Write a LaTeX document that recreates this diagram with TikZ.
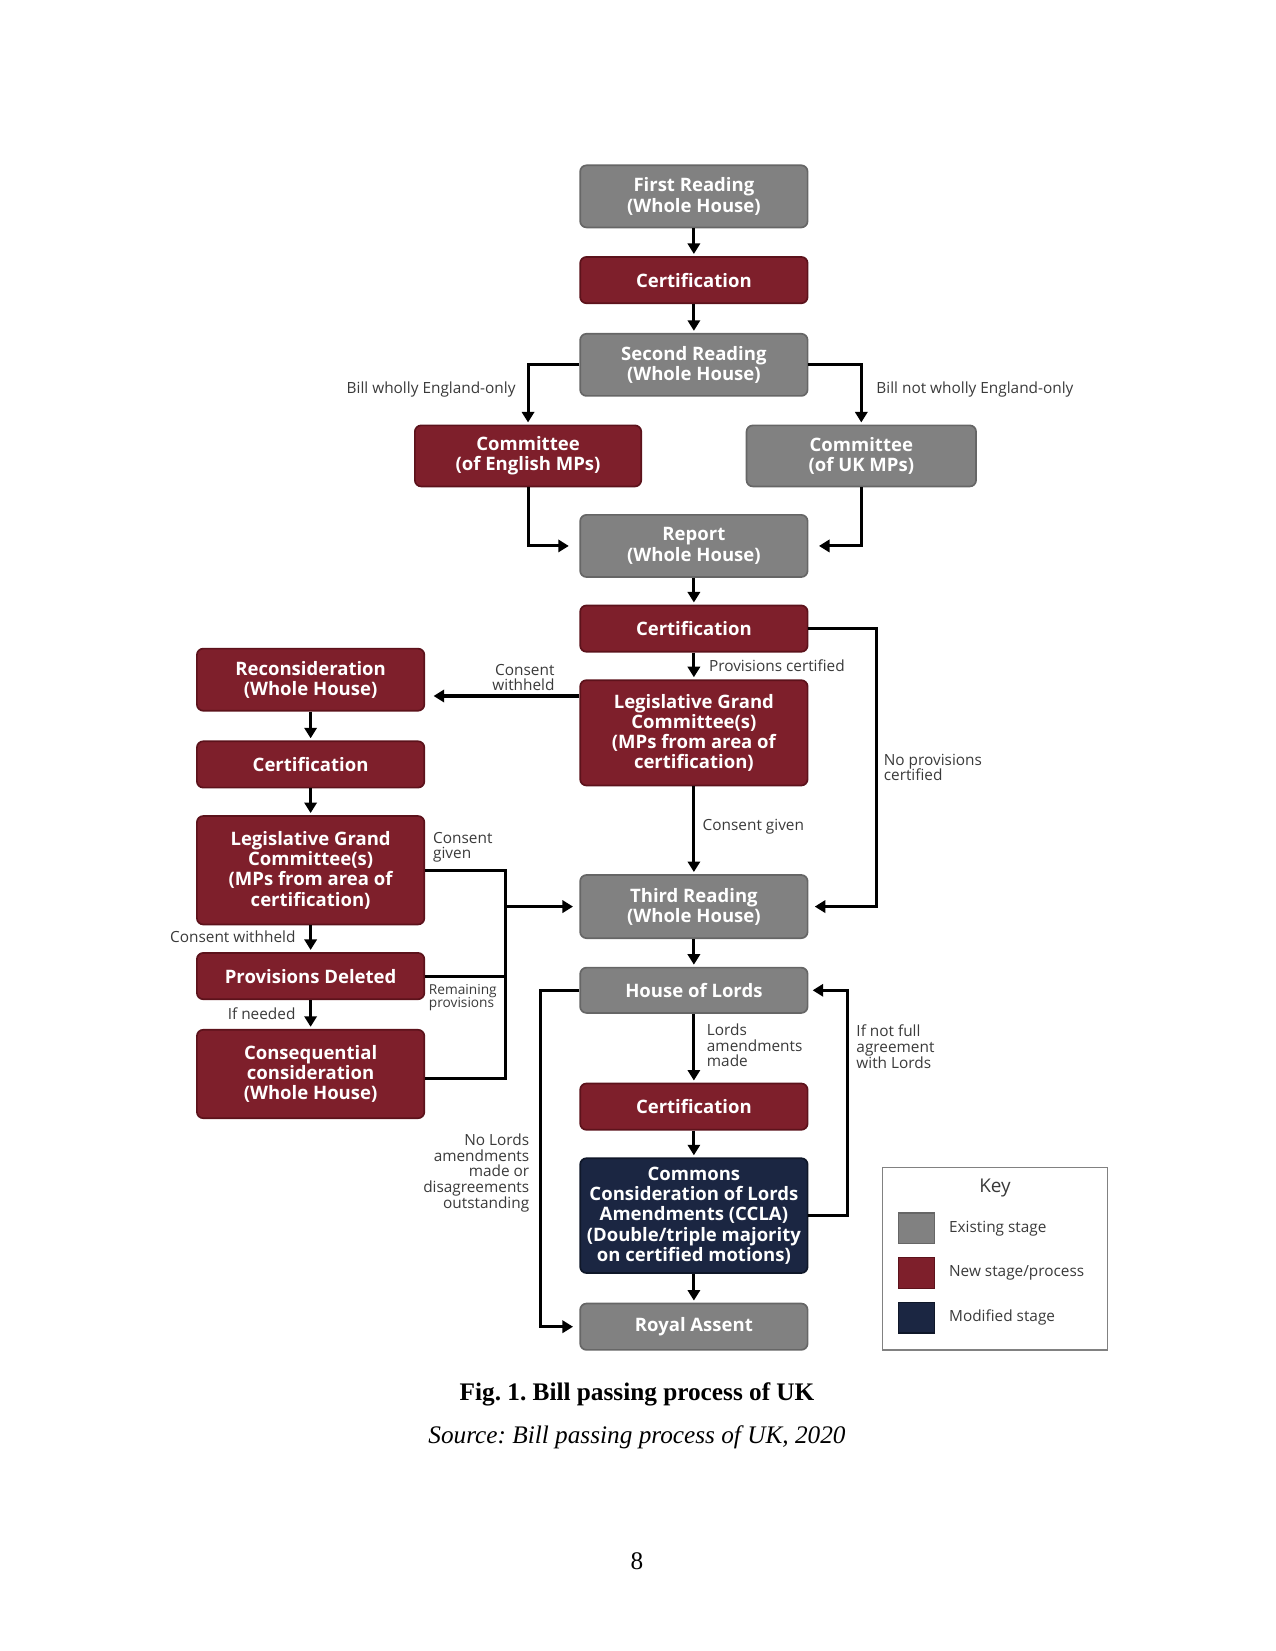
\documentclass[tikz,border=0pt]{standalone}
\usepackage{fontspec}
\setmainfont{Liberation Serif}
\newfontfamily\osans{Open Sans}
\usetikzlibrary{arrows.meta}
\frenchspacing
\definecolor{exgray}{HTML}{818181}
\definecolor{exgrayd}{HTML}{666666}
\definecolor{newred}{HTML}{7E1F2B}
\definecolor{newredd}{HTML}{5C121B}
\definecolor{modnavy}{HTML}{1B2642}
\definecolor{modnavyd}{HTML}{0F1729}
\definecolor{lbl}{HTML}{3A3A3A}
\tikzset{
  stage/.style={rounded corners=3pt, line width=0.8pt, text=white, align=center,
    font=\osans\bfseries\fontsize{8.8}{9.6}\selectfont, inner sep=0pt, minimum width=108pt},
  exst/.style={stage, fill=exgray, draw=exgrayd},
  newst/.style={stage, fill=newred, draw=newredd},
  modst/.style={stage, fill=modnavy, draw=modnavyd},
  arr/.style={-{Triangle[length=5pt,width=5.8pt]}, line width=1.45pt, shorten >=1pt},
  ln/.style={line width=1.45pt},
  lab/.style={text=lbl, font=\osans\fontsize{7.3}{7.4}\selectfont, inner sep=0pt},
  slab/.style={text=lbl, font=\osans\fontsize{6.5}{6.6}\selectfont, inner sep=0pt},
}
\begin{document}
\begin{tikzpicture}[x=0.5pt,y=-0.5pt]
\useasboundingbox (0,0) rectangle (1211,1568);
% main column
\node[exst, minimum height=29.5pt] (fr) at (659,186.5) {First Reading\\(Whole House)};
\node[newst, minimum height=22pt] (c1) at (659,266) {Certification};
\node[exst, minimum height=29.5pt] (sr) at (659,346.5) {Second Reading\\(Whole House)};
\node[newst, minimum height=29pt, minimum width=107.5pt] (ce) at (501.5,433) {Committee\\(of English MPs)};
\node[exst, minimum height=29pt, minimum width=109pt] (cu) at (818,433) {Committee\\(of UK MPs)};
\node[exst, minimum height=29.5pt] (rep) at (659,518.5) {Report\\(Whole House)};
\node[newst, minimum height=22pt] (c2) at (659,597) {Certification};
\node[newst, minimum height=50pt] (lgc) at (659,696) {Legislative Grand\\Committee(s)\\(MPs from area of\\certification)};
\node[exst, minimum height=30pt] (tr) at (659,861) {Third Reading\\(Whole House)};
\node[exst, minimum height=21.5pt] (hol) at (659,940.5) {House of Lords};
\node[newst, minimum height=22pt] (c3) at (659,1051) {Certification};
\node[modst, minimum height=54.5pt] (ccla) at (659,1154.5) {Commons\\Consideration of Lords\\Amendments (CCLA)\\(Double/triple majority\\on certified motions)};
\node[exst, minimum height=22pt] (ra) at (659,1260) {Royal Assent};
% left column
\node[newst, minimum height=29.5pt] (rec) at (295,645.5) {Reconsideration\\(Whole House)};
\node[newst, minimum height=22pt] (cl) at (295,726) {Certification};
\node[newst, minimum height=51.5pt] (lgcl) at (295,826.5) {Legislative Grand\\Committee(s)\\(MPs from area of\\certification)};
\node[newst, minimum height=22pt] (pd) at (295,927) {Provisions Deleted};
\node[newst, minimum height=42pt] (cc) at (295,1020) {Consequential\\consideration\\(Whole House)};
% connectors main
\draw[arr] (fr) -- (c1);
\draw[arr] (c1) -- (sr);
\draw[arr] (sr.west) -| (ce.north);
\draw[arr] (sr.east) -| (cu.north);
\draw[arr, shorten >=5pt] (ce.south) |- (rep.west);
\draw[arr, shorten >=5pt] (cu.south) |- (rep.east);
\draw[arr] (rep) -- (c2);
\draw[arr] (c2) -- (lgc);
\draw[arr, shorten >=3pt] (c2.east) -- ++(65,0) |- (tr.east);
\coordinate (cw) at ([yshift=17.5pt]lgc.west);
\draw[arr, shorten >=4pt] (cw) -- (cw -| rec.east);
\draw[arr] (lgc) -- (tr);
\draw[arr] (tr) -- (hol);
\draw[arr] (hol) -- (c3);
\draw[arr] (c3) -- (ccla);
\draw[arr] (ccla) -- (ra);
\draw[arr, shorten >=3pt] (hol.west) -- ++(-37,0) |- (ra.west);
\draw[arr, shorten >=2pt] (ccla.east) -- ++(37,0) |- (hol.east);
% connectors left
\draw[arr] (rec) -- (cl);
\draw[arr] (cl) -- (lgcl);
\draw[arr] (lgcl) -- (pd);
\draw[arr] (pd) -- (cc);
\coordinate (j) at (480,861);
\draw[ln] (lgcl.east) -| (j);
\draw[ln] (pd.east) -| (j);
\draw[ln] ([yshift=-2pt]cc.east) -| (j);
\draw[arr, shorten >=3pt] (j) -- (tr.west);
% labels
\node[lab, anchor=east] (l1) at (490,370) {Bill wholly England-only};
\node[lab, anchor=west] (l2) at (832,370) {Bill not wholly England-only};
\node[lab, anchor=west] (l3) at (673,632) {Provisions certified};
\node[lab, anchor=west, align=left] (l4) at (839,729) {No provisions\\certified};
\node[lab, anchor=east, align=right] (l5) at (527,643.5) {Consent\\withheld};
\node[lab, anchor=west] (l6) at (667,785) {Consent given};
\node[lab, anchor=west, align=left] (l7) at (411,804.5) {Consent\\given};
\node[lab, anchor=east] (l8) at (281,890) {Consent withheld};
\node[slab, anchor=west, align=left] (l9) at (407,947.5) {Remaining\\provisions};
\node[lab, anchor=east] (l10) at (281,963) {If needed};
\node[lab, anchor=east, align=right] (l11) at (503,1114) {No Lords\\amendments\\made or\\disagreements\\outstanding};
\node[lab, anchor=west, align=left] (l12) at (671,993) {Lords\\amendments\\made};
\node[lab, anchor=west, align=left] (l13) at (813,994) {If not full\\agreement\\with Lords};
% key
\node[draw=exgray, line width=0.6pt, minimum width=107pt, minimum height=86.5pt, inner sep=0pt] (key) at (945,1195.5) {};
\node[text=lbl, font=\osans\fontsize{9}{10}\selectfont] (keyt) at (945,1128) {Key};
\node[fill=exgray, draw=exgrayd, line width=0.6pt, minimum width=17pt, minimum height=14.5pt, inner sep=0pt] (s1) at (870.5,1166.5) {};
\node[fill=newred, draw=newredd, line width=0.6pt, minimum width=17pt, minimum height=14.5pt, inner sep=0pt] (s2) at (870.5,1209) {};
\node[fill=modnavy, draw=modnavyd, line width=0.6pt, minimum width=17pt, minimum height=14.5pt, inner sep=0pt] (s3) at (870.5,1251.5) {};
\node[lab, anchor=west] (k1) at (901,1167) {Existing stage};
\node[lab, anchor=west] (k2) at (901,1209) {New stage/process};
\node[lab, anchor=west] (k3) at (901,1251) {Modified stage};
% caption
\node[font=\bfseries\fontsize{12}{14}\selectfont] (cap) at (605,1324) {Fig. 1. Bill passing process of UK};
\node[font=\itshape\fontsize{12}{14}\selectfont] (src) at (605,1365) {Source: Bill passing process of UK, 2020};
\node[font=\fontsize{12}{14}\selectfont] (pg) at (605,1483) {8};
\end{tikzpicture}
\end{document}
